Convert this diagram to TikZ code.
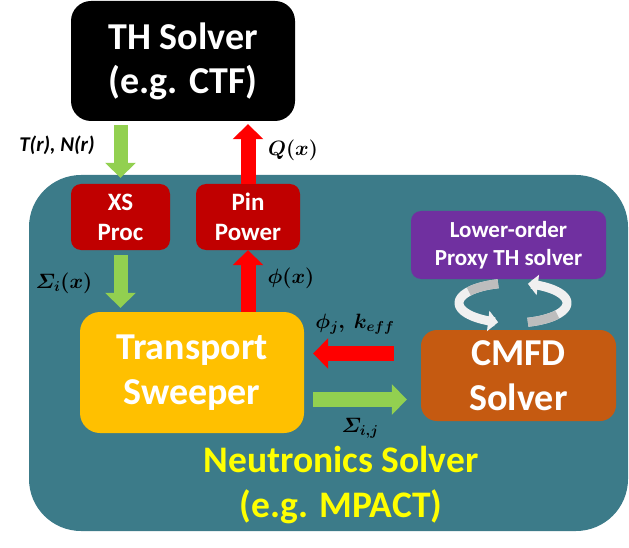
\documentclass[tikz,border=0pt]{standalone}
\usepackage{amsmath}
\usepackage[no-math]{fontspec}
\setmainfont{Carlito}
\usetikzlibrary{arrows.meta}
\definecolor{tealbg}{HTML}{3C7B89}
\definecolor{dred}{HTML}{C00000}
\definecolor{ambr}{HTML}{FFC000}
\definecolor{rust}{HTML}{C55A11}
\definecolor{purp}{HTML}{7030A0}
\definecolor{lgreen}{HTML}{92D050}
\definecolor{bred}{HTML}{FF0000}
\definecolor{yel}{HTML}{FFFF00}
\definecolor{cycw}{HTML}{F0F0F0}
\definecolor{cycg}{HTML}{BDBDBD}
\begin{document}
\begin{tikzpicture}[x=1pt,y=-1pt,
  box/.style={rounded corners=#1, inner sep=0pt, align=center, text=white},
  garrow/.style={draw=lgreen, line width=14pt, -{Triangle[length=15pt,width=30pt,fill=lgreen]}},
  rarrow/.style={draw=bred, line width=15pt, -{Triangle[length=15pt,width=30pt,fill=bred]}},
  cyc/.style={draw=cycw, line width=9pt, -{Triangle[length=10pt,width=20pt,fill=cycw]}},
  cycback/.style={draw=cycg, line width=9pt},
  mlbl/.style={inner sep=0pt, font=\fontsize{20}{24}\selectfont}
]
\useasboundingbox (0,0) rectangle (629,548);

% neutronics container
\node[box=52pt, fill=tealbg, minimum width=599pt, minimum height=356pt] (nb) at (328.5,353) {};

% boxes
\node[box=20pt, fill=black, minimum width=224pt, minimum height=120pt,
      font=\bfseries\fontsize{38}{44}\selectfont] (th) at (183,61) {TH Solver\\(e.g. CTF)};
\node[box=10pt, fill=dred, minimum width=99pt, minimum height=66pt,
      font=\bfseries\fontsize{25}{30}\selectfont] (xs) at (120.5,217) {XS\\Proc};
\node[box=10pt, fill=dred, minimum width=104pt, minimum height=66pt,
      font=\bfseries\fontsize{25}{30}\selectfont] (pp) at (248,217) {Pin\\Power};
\node[box=20pt, fill=ambr, minimum width=224pt, minimum height=121pt,
      font=\bfseries\fontsize{38}{45}\selectfont] (ts) at (192,372.5) {Transport\\Sweeper};
\node[box=16pt, fill=rust, minimum width=195pt, minimum height=91pt,
      font=\bfseries\fontsize{38}{45}\selectfont] (cmfd) at (518.5,375.5) {CMFD\\Solver};
\node[box=10pt, fill=purp, minimum width=195pt, minimum height=68pt,
      font=\bfseries\fontsize{23}{28}\selectfont] (lo) at (508.5,245) {Lower-order\\Proxy TH solver};

\node[inner sep=0pt, align=center, text=yel, font=\bfseries\fontsize{37.5}{45}\selectfont]
      (nl) at (341,485) {Neutronics Solver\\(e.g. MPACT)};

% block arrows
\coordinate (rl) at (0,353.5);
\coordinate (gl) at (0,399.5);
\draw[garrow, shorten <=4pt, shorten >=6pt] (xs.north |- th.south) -- (xs.north);
\draw[rarrow, shorten >=3pt] (pp.north) -- (pp.north |- th.south);
\draw[garrow, shorten <=5pt, shorten >=4pt] (xs.south) -- (xs.south |- ts.north);
\draw[rarrow] (pp.south |- ts.north) -- (pp.south);
\draw[rarrow, shorten <=27pt, shorten >=9pt] (cmfd.west |- rl) -- (ts.east |- rl);
\draw[garrow, line width=15pt, shorten <=9pt, shorten >=14pt] (ts.east |- gl) -- (cmfd.west |- gl);

% cycle arrows
\draw[cyc] plot[domain=254:106, samples=40] ({513+54*cos(\x)},{303+20*sin(\x)});
\draw[cycback] plot[domain=254:215, samples=15] ({513+54*cos(\x)},{303+20*sin(\x)});
\draw[cyc] plot[domain=74:-74, samples=40] ({513+54*cos(\x)},{303+20*sin(\x)});
\draw[cycback] plot[domain=74:35, samples=15] ({513+54*cos(\x)},{303+20*sin(\x)});

% labels
\node[inner sep=0pt, font=\bfseries\itshape\fontsize{21}{24}\selectfont] (tn) at (57,145) {T(r), N(r)};
\node[mlbl] (ql) at (293,150) {$\boldsymbol{Q(x)}$};
\node[mlbl] (sl) at (64,283) {$\boldsymbol{\varSigma_i(x)}$};
\node[mlbl] (fl) at (291,278) {$\boldsymbol{\phi(x)}$};
\node[mlbl, font=\fontsize{22}{26}\selectfont] (fk) at (355,324) {$\boldsymbol{\phi_j,\ k_{eff}}$};
\node[mlbl] (sij) at (360,428) {$\boldsymbol{\varSigma_{i,j}}$};
\end{tikzpicture}
\end{document}
